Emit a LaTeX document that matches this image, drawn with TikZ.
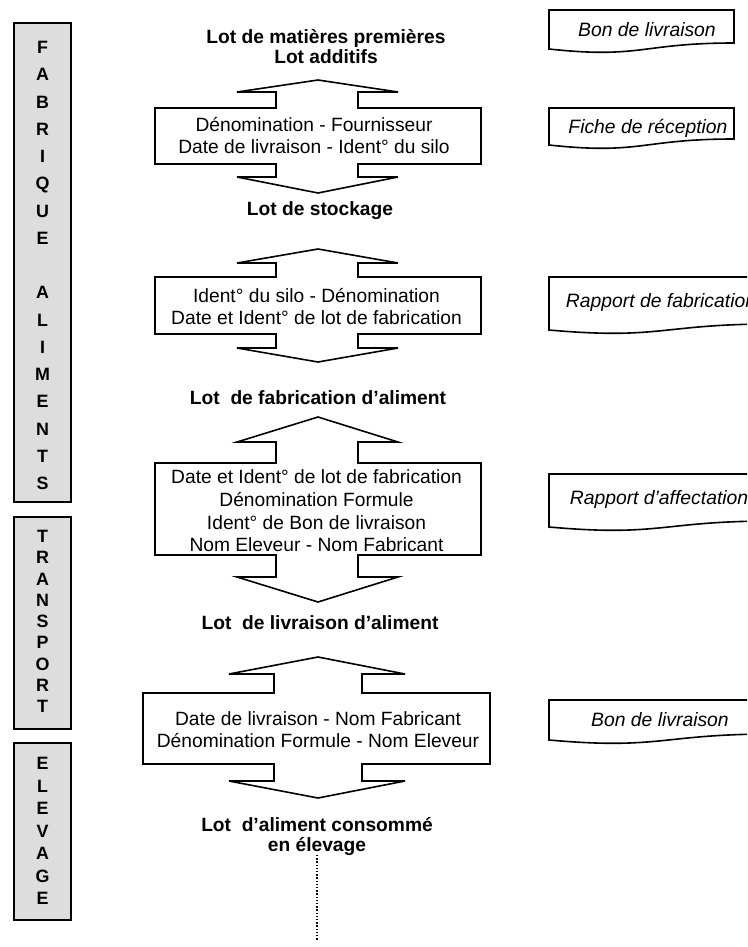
\documentclass[tikz,border=0pt]{standalone}
\usepackage{fontspec}
\setmainfont{Liberation Sans}
\definecolor{sidegray}{RGB}{221,221,221}
\begin{document}
\begin{tikzpicture}[x=0.75pt,y=-0.75pt,
  flow/.style={draw=black, line width=1.2pt, line join=miter},
  sidebox/.style={draw=black, line width=1.2pt, fill=sidegray},
  sidetext/.style={inner sep=0pt, align=center, font=\fontsize{13.4}{#1}\selectfont\bfseries},
  titletext/.style={inner sep=0pt, align=center, font=\fontsize{14.4}{15}\selectfont\bfseries},
  infotext/.style={inner sep=0pt, align=center, font=\fontsize{14.4}{#1}\selectfont},
  docshape/.style={draw=black, line width=1.2pt, line join=miter},
  doctext/.style={inner sep=0pt, font=\fontsize{14.5}{16}\selectfont\itshape},
  dottedline/.style={line width=1.2pt, dash pattern=on 1.1pt off 1.3pt}
]
\useasboundingbox (0,0) rectangle (747,947);
\clip (0,0) rectangle (747,947);

% ---- side boxes ----
\draw[sidebox] (14,23) rectangle (71,502);
\node[sidetext=20.44pt] (fab) at (42.5,265.5) {F\\A\\B\\R\\I\\Q\\U\\E\\~\\A\\L\\I\\M\\E\\N\\T\\S};
\draw[sidebox] (14,517) rectangle (71,729);
\node[sidetext=15.94pt] (tra) at (42.5,621.5) {T\\R\\A\\N\\S\\P\\O\\R\\T};
\draw[sidebox] (14,743) rectangle (71,920);
\node[sidetext=16.88pt] (ele) at (42.5,831) {E\\L\\E\\V\\A\\G\\E};

% ---- titles ----
\node[titletext] (t1) at (326,47) {Lot de matières premières\\Lot additifs};
\node[titletext] (t2) at (320,211) {Lot de stockage};
\node[titletext] (t3) at (318,398) {Lot\ \ de fabrication d’aliment};
\node[titletext] (t4) at (320,623) {Lot\ \ de livraison d’aliment};
\node[titletext] (t5) at (317,836) {Lot\ \ d’aliment consommé\\en élevage};

% ---- block 1 ----
\draw[flow] (318,80) -- (398,92) -- (358,92) -- (358,108) -- (481,108) -- (481,164)
  -- (358,164) -- (358,177) -- (398,177) -- (318,193) -- (237,177) -- (276,177)
  -- (276,164) -- (155,164) -- (155,108) -- (276,108) -- (276,92) -- (237,92) -- cycle;
\node[infotext=16.5pt] (i1) at (314,136) {Dénomination - Fournisseur\\Date de livraison - Ident° du silo};

% ---- block 2 ----
\draw[flow] (318,249) -- (398,263) -- (358,263) -- (358,277) -- (481,277) -- (481,334)
  -- (358,334) -- (358,348) -- (398,348) -- (318,362) -- (237,348) -- (276,348)
  -- (276,334) -- (155,334) -- (155,277) -- (276,277) -- (276,263) -- (237,263) -- cycle;
\node[infotext=16.5pt] (i2) at (316.5,307) {Ident° du silo - Dénomination\\Date et Ident° de lot de fabrication};

% ---- block 3 ----
\draw[flow] (318,417) -- (398,442) -- (358,442) -- (358,463) -- (481,463) -- (481,555)
  -- (358,555) -- (358,577) -- (398,577) -- (318,602) -- (237,577) -- (276,577)
  -- (276,555) -- (155,555) -- (155,463) -- (276,463) -- (276,442) -- (237,442) -- cycle;
\node[infotext=17pt] (i3) at (316.5,511) {Date et Ident° de lot de fabrication\\Dénomination Formule\\Ident° de Bon de livraison\\Nom Eleveur - Nom Fabricant};

% ---- block 4 ----
\draw[flow] (318,657) -- (405,674) -- (362,674) -- (362,693) -- (490,693) -- (490,764)
  -- (362,764) -- (362,781) -- (405,781) -- (318,798) -- (229,781) -- (274,781)
  -- (274,764) -- (143,764) -- (143,693) -- (274,693) -- (274,674) -- (229,674) -- cycle;
\node[infotext=17pt] (i4) at (318,729.5) {Date de livraison - Nom Fabricant\\Dénomination Formule - Nom Eleveur};

% ---- dotted continuation ----
\coordinate (dtop) at (317,855);
\coordinate (dbot) at (317,940);
\draw[dottedline] (dtop) -- (dbot);

% ---- documents ----
\draw[docshape] (549,10) -- (734,10) -- (734,43) .. controls (641,43) and (641,59) .. (549,49) -- cycle;
\node[doctext] (d1) at (647,30) {Bon de livraison};

\draw[docshape] (549,108) -- (734,108) -- (734,139) .. controls (641,139) and (641,155) .. (549,145) -- cycle;
\node[doctext] (d2) at (648,128) {Fiche de réception};

\draw[docshape] (549,277) -- (773,277) -- (773,324) .. controls (661,324) and (661,340) .. (549,330) -- cycle;
\node[doctext] (d3) at (661,302) {Rapport de fabrication};

\draw[docshape] (549,474) -- (773,474) -- (773,521) .. controls (661,521) and (661,537) .. (549,527) -- cycle;
\node[doctext] (d4) at (659,499) {Rapport d’affectation};

\draw[docshape] (549,700) -- (773,700) -- (773,734) .. controls (661,734) and (661,750) .. (549,740) -- cycle;
\node[doctext] (d5) at (660,720) {Bon de livraison};
\end{tikzpicture}
\end{document}
